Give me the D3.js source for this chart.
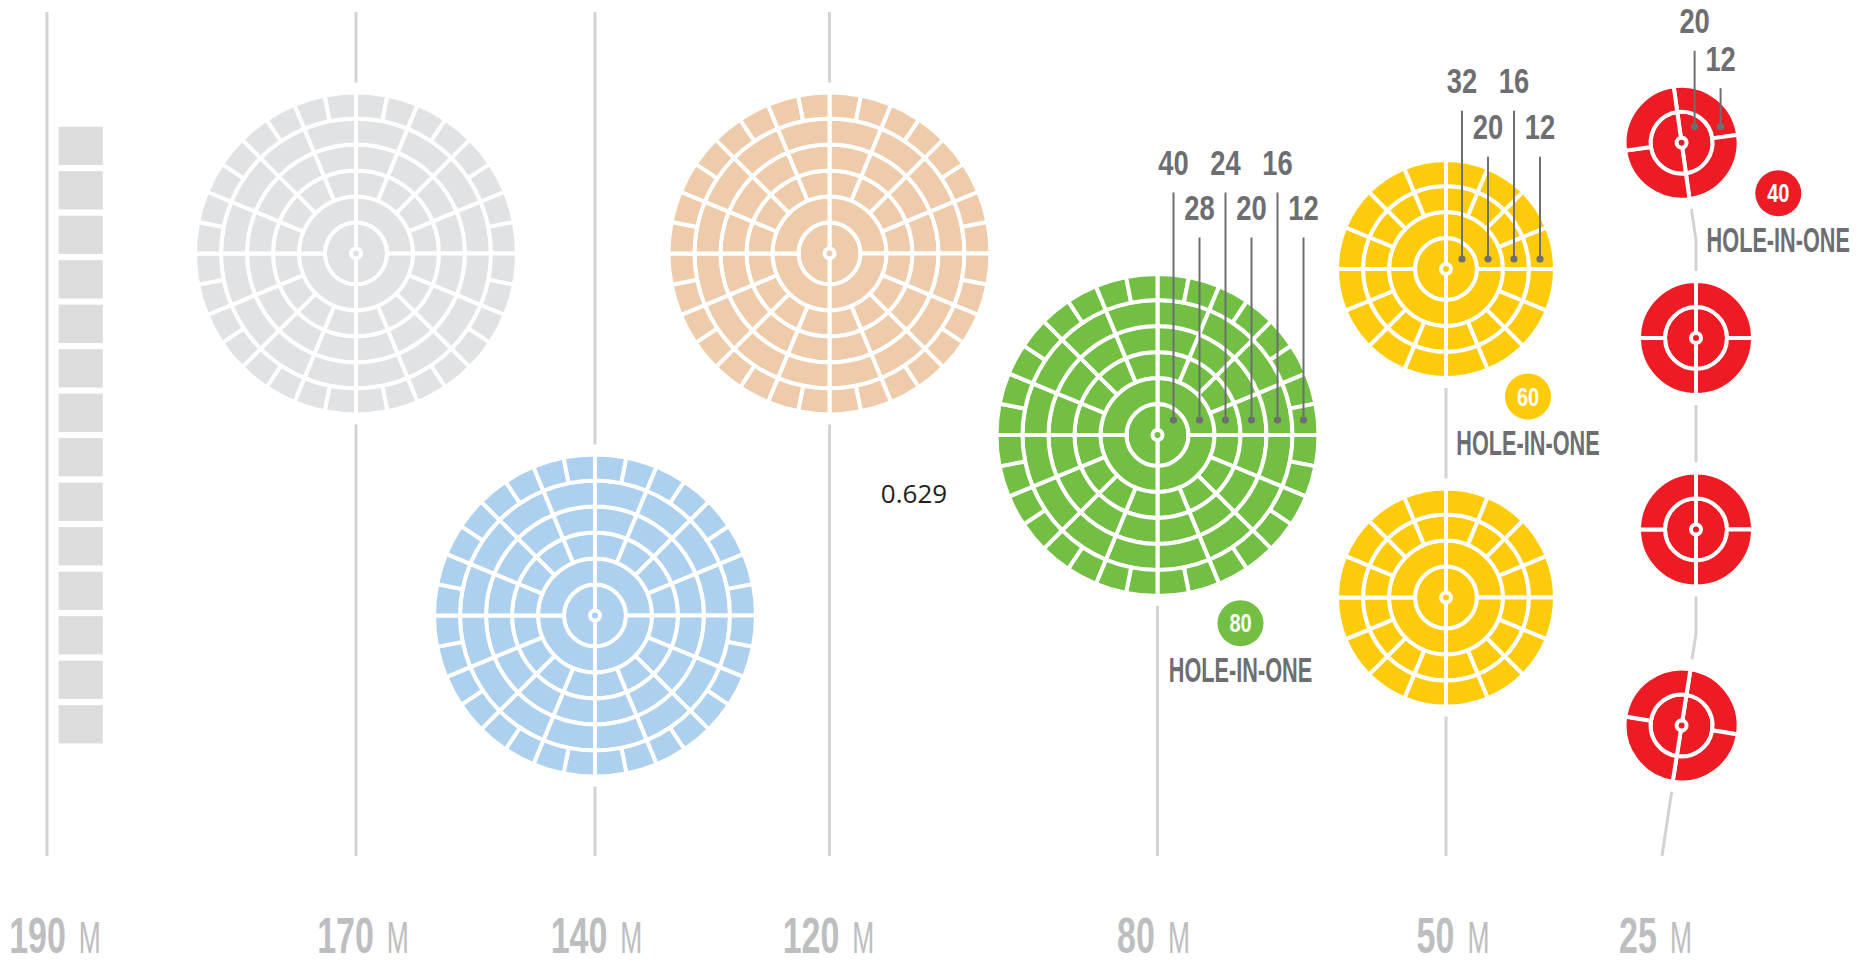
<!DOCTYPE html>
<html><head><meta charset="utf-8">
<script src="https://cdn.jsdelivr.net/npm/d3@7"></script>
<style>
html,body{margin:0;padding:0;background:#fff;}
svg{display:block;}
</style></head>
<body>
<svg id="chart" width="1874" height="964"></svg>
<script>
// ================= DATA =================
const distances = [190, 170, 140, 120, 80, 50, 25];           // tick labels (metres)
const distanceUnit = "M";
const targetDistances = [170, 140, 120, 80, 50, 50, 25, 25, 25, 25];
const targetKinds = ["big", "big", "big", "big", "medium", "medium", "small", "small", "small", "small"];
const bigSegments = [2, 4, 16, 16, 16, 32];      // cells per ring, centre outward
const mediumSegments = [2, 4, 16, 16];
const smallSegments = [2, 4];
const greenPoints = [40, 28, 24, 20, 16, 12];
const greenHoleInOne = 80;
const yellowPoints = [32, 20, 16, 12];
const yellowHoleInOne = 60;
const redPoints = [20, 12];
const redHoleInOne = 40;
const boxCount = 14;                               // grey boxes at 190 M
const holeInOneText = "HOLE-IN-ONE";
const strayValue = "0.629";

// ================= STYLE =================
const targetColors = ["#e1e2e4", "#acd0ed", "#eecbaa", "#72bf44", "#fecb0a", "#fecb0a", "#ed1c24", "#ed1c24", "#ed1c24", "#ed1c24"];
const AXIS_COLOR = "#d1d3d4";
const LABEL_COLOR = "#bcbec0";
const ANN_COLOR = "#6d6e71";
const BOX_COLOR = "#dcdcdc";
const FONT = "'Liberation Sans', Arial, sans-serif";

// ================= LAYOUT =================
const x = d3.scaleLinear().domain(distances).range([47, 356, 595, 829.5, 1157.5, 1446, 1696]);
const rScale = d3.scaleLinear().domain([0, 6]).range([5, 161]);
const lineTop = 12, lineBottom = 856;
const axisFromTop = [true, true, true, true, false, false];
const labelNudge = [8, 7, 1.5, -1, -4, 7, -40.5];
const labelBaseline = 952.5;
const targetCy = [253.4, 615.5, 253.4, 435, 269, 597.6, 142.7, 338, 529.5, 725.5];
const targetDx = [0, 0, 0, 0, 0, 0, -14.4, 0, 0, -14.4];
const targetRot = [0, 0, 0, 0, 0, 0, -8, 0, 0, 9];

const svg = d3.select("#chart");
const gLines = svg.append("g");
const gHalo = svg.append("g");
const gBoxes = svg.append("g");
const gTargets = svg.append("g");
const gAnn = svg.append("g");
const gAxis = svg.append("g");

const segsFor = k => k === "big" ? bigSegments : (k === "medium" ? mediumSegments : smallSegments);
const targets = targetDistances.map((d, i) => {
  const segs = segsFor(targetKinds[i]);
  return {
    i, d, segs,
    cx: x(d) + targetDx[i],
    cy: targetCy[i],
    rot: targetRot[i],
    R: rScale(segs.length) - 2,
    color: targetColors[i]
  };
});

// ---- axis lines ----
distances.slice(0, 6).forEach((d, k) => {
  const first = targets.filter(t => t.d === d);
  const y1 = axisFromTop[k] ? lineTop : d3.min(first, t => t.cy);
  gLines.append("line")
    .attr("x1", x(d)).attr("x2", x(d))
    .attr("y1", y1).attr("y2", lineBottom)
    .attr("stroke", AXIS_COLOR).attr("stroke-width", 3);
});
// 25 M bent path through the red targets
const reds = targets.filter(t => t.d === 25);
const x25 = x(25);
const pathPts = [
  [reds[0].cx, reds[0].cy],
  [x25, 240],
  [reds[1].cx, reds[1].cy],
  [reds[2].cx, reds[2].cy],
  [x25, 634],
  [reds[3].cx, reds[3].cy],
  [x25 - 34, lineBottom]
];
gLines.append("path")
  .attr("d", d3.line()(pathPts))
  .attr("fill", "none").attr("stroke", AXIS_COLOR).attr("stroke-width", 3);

// halos (gaps in the axis lines)
gHalo.selectAll("circle").data(targets).join("circle")
  .attr("cx", t => t.cx).attr("cy", t => t.cy).attr("r", t => t.R + 12)
  .attr("fill", "#fff");

// ---- grey boxes at 190 M ----
const boxY = d3.scaleBand().domain(d3.range(boxCount)).range([126.7, 743.4]).paddingInner(0.14).paddingOuter(0);
gBoxes.selectAll("rect").data(d3.range(boxCount)).join("rect")
  .attr("x", x(190) + 11.6).attr("width", 44.2)
  .attr("y", d => boxY(d)).attr("height", boxY.bandwidth())
  .attr("fill", BOX_COLOR);

// ---- targets ----
const arc = d3.arc();
targets.forEach(t => {
  const g = gTargets.append("g").attr("transform", `translate(${t.cx},${t.cy}) rotate(${t.rot})`);
  const cells = [];
  t.segs.forEach((n, ring) => {
    for (let j = 0; j < n; j++) {
      cells.push({
        innerRadius: ring === 0 ? 0 : rScale(ring),
        outerRadius: rScale(ring + 1),
        startAngle: j * 2 * Math.PI / n,
        endAngle: (j + 1) * 2 * Math.PI / n
      });
    }
  });
  g.selectAll("path").data(cells).join("path")
    .attr("d", arc)
    .attr("fill", t.color)
    .attr("stroke", "#fff").attr("stroke-width", 4).attr("stroke-linejoin", "miter");
  g.append("circle").attr("r", 5).attr("fill", t.color).attr("stroke", "#fff").attr("stroke-width", 4);
});

// ---- annotations ----
function condensedText(sel, str, cx, cy, size, weight, sx, anchor, fill) {
  return sel.append("text").text(str)
    .attr("transform", `translate(${cx},${cy}) scale(${sx},1)`)
    .attr("text-anchor", anchor)
    .attr("font-family", FONT).attr("font-weight", weight).attr("font-size", size)
    .attr("fill", fill);
}
const annotationLayout = [
  { target: 3, points: greenPoints, hio: greenHoleInOne, rows: [175, 220], dotDy: -15, shift: -2, hioDx: 83, hioDy: 246.7 },
  { target: 4, points: yellowPoints, hio: yellowHoleInOne, rows: [93.3, 139.3], dotDy: -10, shift: -2, hioDx: 82, hioDy: 186 },
  { target: 6, points: redPoints, hio: redHoleInOne, rows: [33.3, 70.7], dotDy: -16, shift: -5, hioDx: 96.7, hioDy: 109 }
];
annotationLayout.forEach(a => {
  const t = targets[a.target];
  const dotY = t.cy + a.dotDy;
  a.points.forEach((p, i) => {
    const px = t.cx + rScale(i + 0.5) + a.shift;
    const row = a.rows[i % 2];
    gAnn.append("line")
      .attr("x1", px).attr("x2", px).attr("y1", row + 17.5).attr("y2", dotY)
      .attr("stroke", ANN_COLOR).attr("stroke-width", 2);
    gAnn.append("circle").attr("cx", px).attr("cy", dotY).attr("r", 3.6).attr("fill", ANN_COLOR);
    condensedText(gAnn, p, px, row, 36, 700, 0.76, "middle", ANN_COLOR);
  });
  const hx = t.cx + a.hioDx, hy = t.cy + a.hioDy;
  condensedText(gAnn, holeInOneText, hx, hy, 35, 700, 0.62, "middle", ANN_COLOR);
  gAnn.append("circle").attr("cx", hx).attr("cy", hy - 58.4).attr("r", 23).attr("fill", t.color);
  condensedText(gAnn, a.hio, hx, hy - 58.4 + 9, 25, 700, 0.8, "middle", "#fff");
});

// stray value
gAnn.append("text").text(strayValue)
  .attr("x", 914).attr("y", 503).attr("text-anchor", "middle")
  .attr("font-family", "'Open Sans', sans-serif").attr("font-size", 26).attr("fill", "#231f20");

// ---- distance labels ----
distances.forEach((d, i) => {
  const numSx = 0.68, unitSx = 0.6, gap = 13;
  const num = condensedText(gAxis, d, 0, labelBaseline, 50, 700, numSx, "start", LABEL_COLOR);
  const unit = condensedText(gAxis, distanceUnit, 0, labelBaseline, 44, 400, unitSx, "start", LABEL_COLOR);
  const nw = num.node().getComputedTextLength() * numSx;
  const uw = unit.node().getComputedTextLength() * unitSx;
  const total = nw + gap + uw;
  const c = x(d) + labelNudge[i];
  num.attr("transform", `translate(${c - total / 2},${labelBaseline}) scale(${numSx},1)`);
  unit.attr("transform", `translate(${c - total / 2 + nw + gap},${labelBaseline}) scale(${unitSx},1)`);
});
</script>
</body></html>
